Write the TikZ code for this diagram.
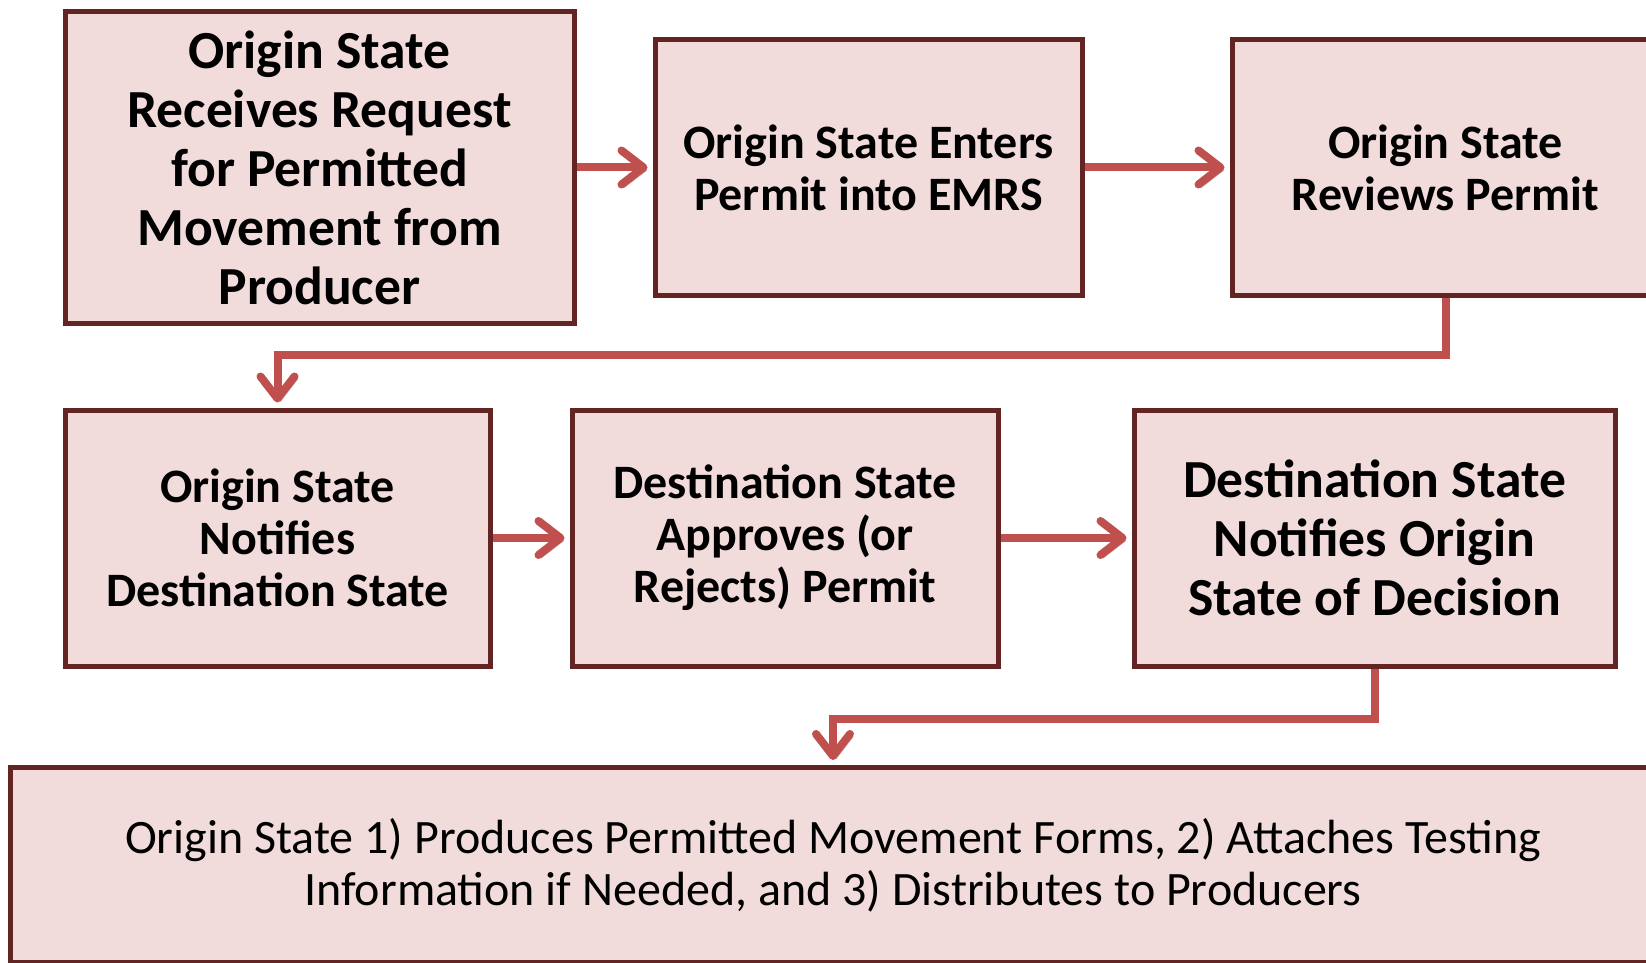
\documentclass[tikz,border=0pt]{standalone}
\usepackage{fontspec}
\setmainfont{Carlito}
\usepackage{tikz}
\usetikzlibrary{positioning}
\usetikzlibrary{arrows.meta}
\usepackage{xcolor}
\definecolor{boxfill}{HTML}{F2DCDB}
\definecolor{boxline}{HTML}{632523}
\definecolor{arrowred}{HTML}{C0504D}

\begin{document}
\begin{tikzpicture}[
x = 0.5pt, y = -0.5pt,
every node/.style = {draw = boxline, fill = boxfill, line width = 2.5pt, rectangle, align = center, inner sep = 0pt},
  big/.style = {font = \fontsize{26.8}{29.5}\selectfont\bfseries},
  small/.style = {font = \fontsize{24}{26}\selectfont\bfseries},
  flow/.style = {draw = arrowred, line width = 4pt, shorten > = 2.5pt,
    -{Straight Barb[length = 11pt, width = 17pt, round]},
    preaction = {draw = black!22, transform canvas = {shift = {(1.5pt,-1.5pt)}}}}
]
\useasboundingbox (0,0) rectangle (1646,963);
\node[big, minimum width = 254.5pt, minimum height = 155.5pt] (1) at (319.5,167.5)
    {Origin State\\Receives Request\\for Permitted\\Movement from\\Producer};
\node[small, minimum width = 213.5pt, minimum height = 127.5pt] (2) at (868.5,167.5)
    {Origin State Enters\\Permit into EMRS};
\node[small, minimum width = 213.5pt, minimum height = 127.5pt] (3) at (1445.5,167.5)
    {Origin State\\Reviews Permit};
\node[small, minimum width = 212.5pt, minimum height = 128pt] (4) at (277.5,538)
    {Origin State\\Notifies\\Destination State};
\node[small, minimum width = 213pt, minimum height = 128pt] (5) at (785,538)
    {Destination State\\Approves (or\\Rejects) Permit};
\node[big, minimum width = 240.5pt, minimum height = 128pt] (6) at (1374.5,538)
    {Destination State\\Notifies Origin\\State of Decision};
\node[font = \fontsize{24}{26}\selectfont, minimum width = 822.5pt, minimum height = 97.5pt] (7) at (833,865)
    {Origin State 1) Produces Permitted Movement Forms, 2) Attaches Testing\\Information if Needed, and 3) Distributes to Producers};

\draw[flow] (1) -- (2);
\draw[flow] (2) -- (3);
\draw[flow] (3.south) -- ++(0,57) -| (4.north);
\draw[flow] (4) -- (5);
\draw[flow] (5) -- (6);
\draw[flow] (6.south) -- ++(0,50) -| (7.north);
% \draw[flow] (7) -- (1);
\end{tikzpicture}
\end{document}
